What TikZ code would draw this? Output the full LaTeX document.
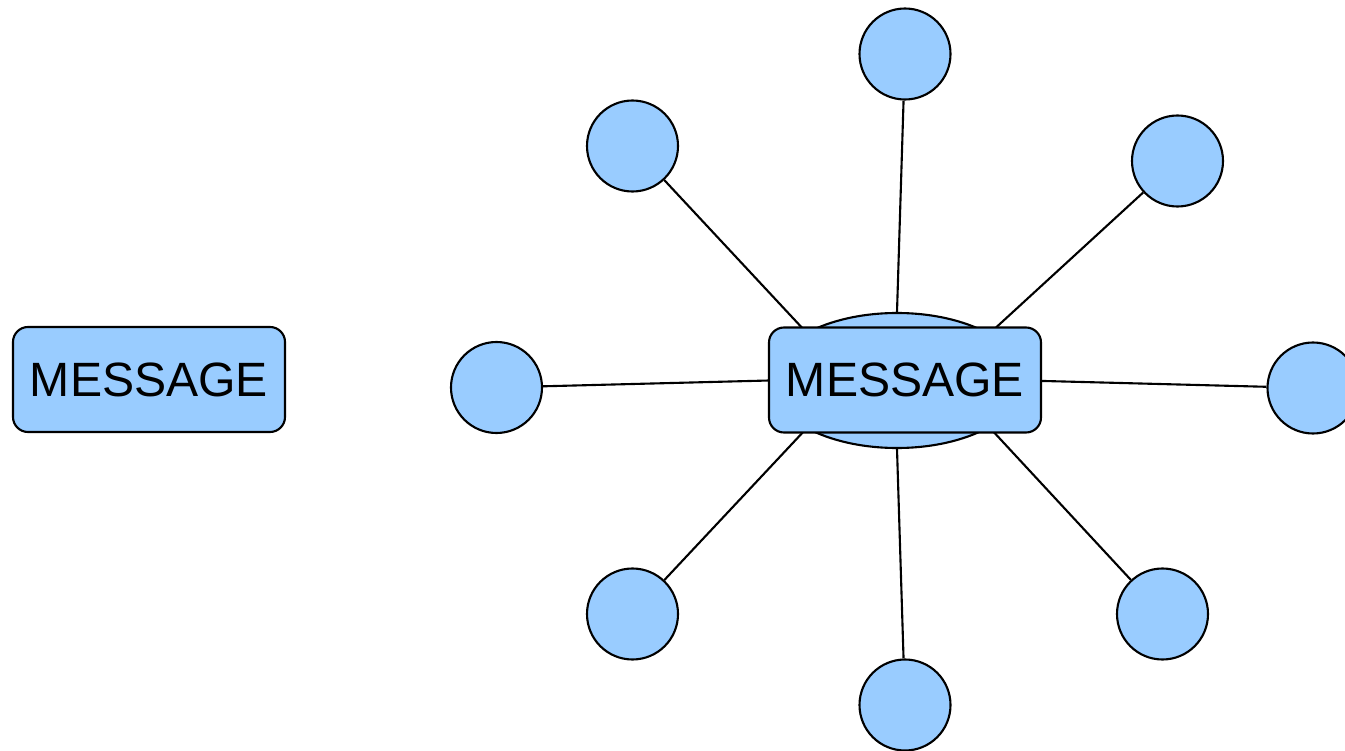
\documentclass[tikz,border=0pt]{standalone}
\usepackage{fontspec}
\setmainfont{Liberation Sans}
\usetikzlibrary{shapes.geometric}
\pgfdeclarelayer{background}
\pgfsetlayers{background,main}
\definecolor{nodeblue}{HTML}{99CCFF}
\tikzset{
  base/.style={draw=black, fill=nodeblue, line width=0.6pt, inner sep=0pt},
  msgbox/.style={base, rectangle, rounded corners=0.15cm,
    minimum width=2.72cm, minimum height=1.05cm,
    font=\fontsize{13.7}{16}\selectfont},
  hub/.style={base, ellipse, minimum width=2.54cm, minimum height=1.35cm},
  leaf/.style={base, circle, minimum size=0.91cm},
  link/.style={draw=black, line width=0.6pt}
}
\begin{document}
\begin{tikzpicture}
\useasboundingbox (0,0) rectangle (13.45,7.5);

% standalone message
\node[msgbox] (single) at (1.49,3.705) {MESSAGE};

% hub: ellipse behind the message box
\node[hub] (hubshape) at (8.97,3.695) {};
\node[msgbox] (hubmsg) at (9.05,3.70) {MESSAGE};

% surrounding circles
\node[leaf] (n)  at (9.05,6.96) {};
\node[leaf] (nw) at (6.325,6.04) {};
\node[leaf] (ne) at (11.775,5.89) {};
\node[leaf] (w)  at (4.965,3.625) {};
\node[leaf] (e)  at (13.13,3.62) {};
\node[leaf] (sw) at (6.325,1.36) {};
\node[leaf] (se) at (11.625,1.36) {};
\node[leaf] (s)  at (9.05,0.45) {};

% spokes, drawn underneath the hub
\begin{pgfonlayer}{background}
  \draw[link] (n)  -- (hubshape.north);
  \draw[link] (nw) -- (hubshape.152);
  \draw[link] (ne) -- (hubshape.27);
  \draw[link] (w)  -- (hubshape.west);
  \draw[link] (e)  -- (hubshape.east);
  \draw[link] (sw) -- (hubshape.208);
  \draw[link] (se) -- (hubshape.333);
  \draw[link] (s)  -- (hubshape.south);
\end{pgfonlayer}
\end{tikzpicture}
\end{document}
